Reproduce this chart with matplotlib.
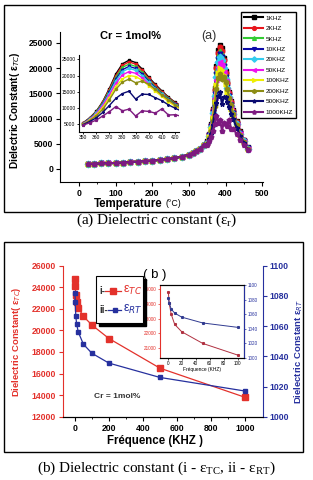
import numpy as np
import matplotlib.pyplot as plt
from matplotlib.lines import Line2D
from matplotlib.patches import Rectangle

plt.rcParams['font.family'] = ['Liberation Sans', 'DejaVu Sans']

# ---- (a) dielectric constant vs temperature ----
temp_low = [25, 40, 60, 80, 100, 120, 140, 160, 180, 200, 220, 240, 260, 280, 300, 310, 320, 330, 340]
eps_low = [1000, 1050, 1100, 1150, 1200, 1280, 1370, 1460, 1560, 1670, 1800, 1960, 2150, 2450,
           2850, 3150, 3550, 4050, 4700]
temp_peak = [350, 355, 360, 365, 370, 375, 380, 385, 390, 395, 400, 405, 410, 415, 420, 430, 440, 450, 460]

eps_1k = [5500, 7000, 9000, 12000, 16000, 20500, 23600, 24700, 24000, 22000, 19500, 17300, 15300, 13400, 11800, 9500, 7500, 5800, 4300]
eps_2k = [5400, 6900, 8800, 11800, 15700, 20000, 23100, 24200, 23500, 21600, 19100, 17000, 15000, 13200, 11600, 9300, 7300, 5700, 4200]
eps_5k = [5300, 6800, 8700, 11600, 15300, 19500, 22500, 23500, 22800, 21000, 18700, 16600, 14700, 13000, 11400, 9200, 7200, 5600, 4100]
eps_10k = [5200, 6700, 8500, 11300, 14900, 18900, 21800, 22800, 22200, 20500, 18300, 16300, 14400, 12700, 11200, 9000, 7100, 5500, 4100]
eps_20k = [5200, 6600, 8400, 11100, 14500, 18300, 21200, 22200, 21600, 20000, 17900, 16000, 14200, 12500, 11000, 8900, 7000, 5500, 4000]
eps_50k = [5100, 6500, 8200, 10800, 14000, 17600, 20200, 21200, 20700, 19300, 17400, 15600, 13900, 12300, 10800, 8800, 6900, 5400, 4000]
eps_100k = [5000, 6300, 7900, 10200, 13200, 16600, 19000, 20000, 19700, 18600, 16900, 15200, 13600, 12000, 10600, 8600, 6800, 5300, 3900]
eps_200k = [5000, 6200, 7600, 9600, 12500, 15800, 18000, 18900, 17800, 18300, 17300, 15800, 14000, 12600, 11000, 8700, 6800, 5300, 3900]
eps_500k = [4900, 5900, 7000, 8700, 10800, 13000, 14500, 15200, 12800, 14300, 14200, 13200, 12300, 11000, 10000, 8200, 6500, 5100, 3800]
eps_1000k = [4800, 5500, 6300, 7600, 8900, 10500, 9200, 9700, 7600, 9200, 9000, 8500, 9800, 7900, 8000, 7000, 5800, 4800, 3700]

series = [eps_1k, eps_2k, eps_5k, eps_10k, eps_20k, eps_50k, eps_100k, eps_200k, eps_500k, eps_1000k]
labels = ['1KHZ', '2KHZ', '5KHZ', '10KHZ', '20KHZ', '50KHZ', '100KHZ', '200KHZ', '500KHZ', '1000KHZ']
colors = ['black', '#e8161c', '#33cc33', '#0a0aa8', '#33ccee', '#ee11ee', '#eeee00', '#8c8c14', '#0a0a70', '#7d1a80']
markers = ['s', 'o', '^', 'v', 'D', '<', '>', 'h', '*', 'p']

# ---- (b) dielectric constant vs frequency ----
freq = [1, 2, 5, 10, 20, 50, 100, 200, 500, 1000]
eps_tc = [24800, 24100, 23300, 22600, 22100, 21300, 20500, 19250, 16500, 13800]
eps_rt = [1082, 1076, 1067, 1061.5, 1056, 1048, 1042, 1035.5, 1026, 1017]

red = '#e3312b'
blue = '#26309e'

fig = plt.figure(figsize=(3.13, 4.80), dpi=100)

# panel borders
fig.add_artist(Rectangle((4/313, 1-212/480), 301/313, 207/480, transform=fig.transFigure,
                         fill=False, ec='black', lw=1))
fig.add_artist(Rectangle((4/313, 1-452/480), 299/313, 210/480, transform=fig.transFigure,
                         fill=False, ec='black', lw=1))

# ================= top panel =================
ax = fig.add_axes([60/313, 1-182/480, 203/313, 150/480])
temp = temp_low + temp_peak
for s, lab, c, m in zip(series, labels, colors, markers):
    ax.plot(temp, eps_low + s, color=c, marker=m, ms=3.4, lw=1.5, label=lab)
ax.set_xlim(-52, 502)
ax.set_ylim(-2580, 27180)
ax.set_xticks([0, 100, 200, 300, 400, 500])
ax.set_xticks([50, 150, 250, 350, 450], minor=True)
ax.set_yticks([0, 5000, 10000, 15000, 20000, 25000])
ax.spines['top'].set_visible(False)
ax.spines['right'].set_visible(False)
ax.tick_params(labelsize=6.2, length=3, width=0.8, pad=2)
ax.tick_params(which='minor', length=1.5)
for lab in ax.get_xticklabels() + ax.get_yticklabels():
    lab.set_fontweight('bold')

fig.text(15/313, 1-110/480, 'Dielectric Constant( ε$_{TC}$)', rotation=90, ha='center', va='center',
         fontsize=7.3, fontweight='bold')
fig.text(163/313, 1-204/480, 'Temperature', ha='right', va='center', fontsize=8.3, fontweight='bold')
fig.text(165/313, 1-204/480, '(°C)', ha='left', va='center', fontsize=6.3)
fig.text(130/313, 1-36/480, 'Cr = 1mol%', ha='center', va='center', fontsize=8, fontweight='bold')
fig.text(209/313, 1-36/480, '(a)', ha='center', va='center', fontsize=9, color='#333333')

fig.legend(loc='upper left', bbox_to_anchor=(241/313, 1-12/480), fontsize=4.6, frameon=True,
           fancybox=False, edgecolor='black', framealpha=1, handlelength=3.0, labelspacing=0.78,
           borderpad=0.5, handletextpad=0.4, borderaxespad=0, markerscale=0.8)

# inset
axi = fig.add_axes([79/313, 1-132/480, 100/313, 77/480])
axi.patch.set_alpha(0)
for s, c, m in zip(series, colors, markers):
    axi.plot(temp_peak, s, color=c, marker=m, ms=1.6, lw=1)
axi.set_xlim(347, 423)
axi.set_ylim(2700, 26300)
axi.set_xticks(range(350, 421, 10))
axi.set_yticks([5000, 10000, 15000, 20000, 25000])
axi.spines['top'].set_visible(False)
axi.spines['right'].set_visible(False)
axi.tick_params(labelsize=3.6, length=1.5, width=0.6, pad=1)

# ================= bottom panel =================
fig.text(0.5, 1-220/480, '(a) Dielectric constant (ε$\\mathregular{_r}$)', ha='center', va='center',
         fontsize=11, family='Liberation Serif')
fig.text(0.5, 1-468/480, '(b) Dielectric constant (i - ε$\\mathregular{_{TC}}$, ii - ε$\\mathregular{_{RT}}$)',
         ha='center', va='center', fontsize=11, family='Liberation Serif')

ax2 = fig.add_axes([63/313, 1-416.7/480, 200/313, 151/480])
ax2.plot(freq, eps_tc, color=red, marker='s', ms=4.5, lw=0.9)
ax2.set_xlim(-70, 1106)
ax2.set_ylim(12000, 26000)
ax2.set_xticks([0, 200, 400, 600, 800, 1000])
ax2.set_xticks([100, 300, 500, 700, 900], minor=True)
ax2.set_yticks(range(12000, 26001, 2000))
ax2.tick_params(labelsize=6.2, length=3, width=0.8, pad=2)
ax2.tick_params(which='minor', length=1.5)
ax2.tick_params(axis='y', colors=red)
ax2.spines['left'].set_color(red)
ax2.spines['top'].set_visible(False)
ax2.spines['right'].set_visible(False)

ax3 = ax2.twinx()
ax3.plot(freq, eps_rt, color=blue, marker='s', ms=2.8, lw=0.9)
ax3.set_ylim(1000, 1100)
ax3.set_yticks(range(1000, 1101, 20))
ax3.tick_params(labelsize=6.2, length=3, width=0.8, colors=blue, pad=2)
ax3.spines['right'].set_color(blue)
ax3.spines['left'].set_visible(False)
ax3.spines['top'].set_visible(False)
for lab in ax2.get_xticklabels() + ax2.get_yticklabels() + ax3.get_yticklabels():
    lab.set_fontweight('bold')

fig.text(17/313, 1-342/480, 'Dielectric Constant( ε$_{TC}$)', rotation=90, ha='center', va='center',
         fontsize=6.8, fontweight='bold', color=red)
fig.text(299/313, 1-352/480, 'Dielectric Constant ε$_{RT}$', rotation=90, ha='center', va='center',
         fontsize=6.8, fontweight='bold', color=blue)
fig.text(155/313, 1-441/480, 'Fréquence (KHZ )', ha='center', va='center', fontsize=8.3, fontweight='bold')
fig.text(117/313, 1-397/480, 'Cr = 1mol%', ha='center', va='center', fontsize=6, fontweight='bold',
         color='#333333')
fig.text(155/313, 1-275/480, '( b )', ha='center', va='center', fontsize=9.5)

# legend box with shadow (drawn by hand, "i-" before the handle)
fig.add_artist(Rectangle((99/313, 1-326/480), 47/313, 47/480, transform=fig.transFigure,
                         fc='black', ec='black'))
fig.add_artist(Rectangle((96/313, 1-323/480), 47/313, 47/480, transform=fig.transFigure,
                         fc='white', ec='black', lw=0.8))
fig.text(99/313, 1-291/480, 'i-', ha='left', va='center', fontsize=7, fontweight='bold', color='#333333')
fig.add_artist(Line2D([105/313, 113/313, 121/313], [1-291/480]*3, transform=fig.transFigure,
                      color=red, marker='s', ms=4.5, markevery=[1], lw=0.9))
fig.text(123/313, 1-290/480, 'ε$_{TC}$', ha='left', va='center', fontsize=9, color=red)
fig.text(99/313, 1-310/480, 'ii-', ha='left', va='center', fontsize=7, fontweight='bold', color='#333333')
fig.add_artist(Line2D([108/313, 115/313, 121/313], [1-310/480]*3, transform=fig.transFigure,
                      color=blue, marker='s', ms=2.8, markevery=[1], lw=0.9))
fig.text(123/313, 1-309/480, 'ε$_{RT}$', ha='left', va='center', fontsize=9, color=blue)

# inset of panel b (first 100 KHZ)
n_in = 7
ax4 = fig.add_axes([160/313, 1-358/480, 84/313, 73/480])
ax4.plot(freq[:n_in], eps_tc[:n_in], color='#b03040', marker='s', ms=1.2, lw=0.7)
ax4.set_xlim(-11, 109)
ax4.set_ylim(20300, 25300)
ax4.set_xticks([0, 20, 40, 60, 80, 100])
ax4.set_yticks([21000, 22000, 23000, 24000, 25000])
ax4.tick_params(labelsize=3.3, length=1.5, width=0.5, pad=1)
ax4.tick_params(axis='y', colors=red)
ax4.spines['left'].set_color(red)
ax4.set_xlabel('Fréquence (KHZ)', fontsize=3.5, labelpad=0.5)
ax5 = ax4.twinx()
ax5.plot(freq[:n_in], eps_rt[:n_in], color='#303a90', marker='s', ms=1.2, lw=0.7)
ax5.set_ylim(1000, 1100)
ax5.set_yticks(range(1000, 1101, 20))
ax5.tick_params(labelsize=3.3, length=1.5, width=0.5, pad=1, colors=blue)
ax5.spines['right'].set_color(blue)
ax5.spines['left'].set_visible(False)

fig.savefig('out.png', dpi=100)
